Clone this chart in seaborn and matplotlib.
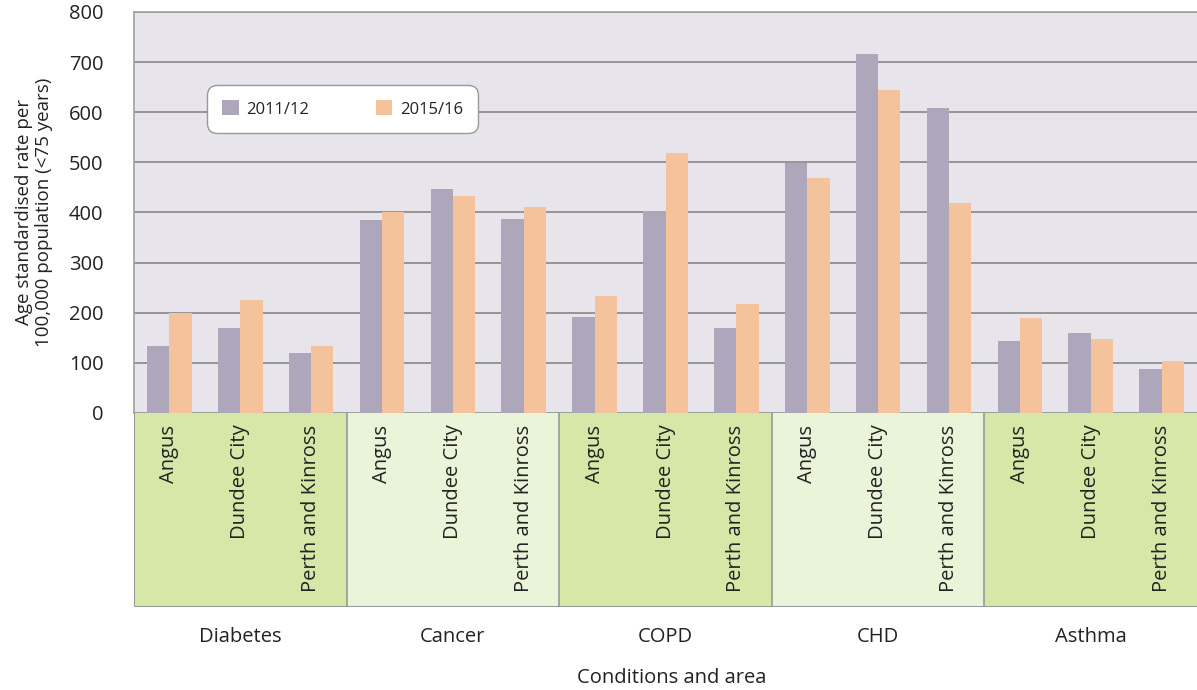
import pandas as pd
import numpy as np
import matplotlib
matplotlib.use('Agg')
import matplotlib.pyplot as plt
import matplotlib.transforms as mtransforms
import seaborn as sns

# ==================== DATA ====================
conditions = ['Diabetes', 'Cancer', 'COPD', 'CHD', 'Asthma']
areas = ['Angus', 'Dundee City', 'Perth and Kinross']
periods = ['2011/12', '2015/16']

rate_2011 = [134, 170, 120,   385, 447, 387,   191, 403, 170,   499, 717, 609,   144, 159, 87]
rate_2015 = [200, 226, 134,   400, 433, 411,   234, 519, 218,   469, 645, 419,   189, 147, 104]

yticks = [0, 100, 200, 300, 400, 500, 600, 700, 800]

rows = []
i = 0
for c in conditions:
    for a in areas:
        key = c + '|' + a
        rows.append({'key': key, 'area': a, 'condition': c, 'period': periods[0], 'rate': rate_2011[i]})
        rows.append({'key': key, 'area': a, 'condition': c, 'period': periods[1], 'rate': rate_2015[i]})
        i += 1
df = pd.DataFrame(rows)
order = list(dict.fromkeys(df['key']))

# ==================== STYLE ====================
sns.set_style('white')
plt.rcParams['font.family'] = ['Open Sans', 'DejaVu Sans']
text_col = '#222222'
grid_col = '#8e8e8e'
bg_col = '#e7e5eb'
pal = {'2011/12': '#aea6ba', '2015/16': '#f5c39b'}
band_dark = '#d5e8a8'
band_light = '#eaf4d8'

fig = plt.figure(figsize=(11.97, 6.90), dpi=100)
left, width = 134 / 1197, 1 - 134 / 1197
ax = fig.add_axes([left, 1 - 413 / 690, width, (413 - 12) / 690])
ax2 = fig.add_axes([left, 1 - 607 / 690, width, (607 - 413) / 690], sharex=ax)

sns.barplot(data=df, x='key', y='rate', hue='period', order=order, hue_order=periods,
            palette=pal, saturation=1, width=0.63, linewidth=0, ax=ax, zorder=3)

ax.set_facecolor(bg_col)
ax.set_ylim(0, 800)
ax.set_yticks(yticks)
ax.set_yticklabels([str(t) for t in yticks], fontsize=14.5, color=text_col)
ax.tick_params(axis='y', length=0, pad=22)
ax.tick_params(axis='x', length=0, labelbottom=False)
ax.yaxis.grid(True, color=grid_col, linewidth=1.3, zorder=0)
ax.set_axisbelow(True)
ax.set_xlabel('')
ax.set_ylabel('')
for s in ['left', 'top', 'bottom']:
    ax.spines[s].set_color('#a0a0a0')
    ax.spines[s].set_linewidth(1.2)
ax.spines['right'].set_visible(False)

leg = ax.legend(loc='center', bbox_to_anchor=(0.196, 0.758), ncol=2, frameon=True,
                fontsize=12, handlelength=1.0, handleheight=1.0, columnspacing=4.0,
                borderpad=0.9, handletextpad=0.45, fancybox=True)
leg.get_frame().set_facecolor('white')
leg.get_frame().set_edgecolor('#999999')
leg.get_frame().set_alpha(1)
leg.get_frame().set_boxstyle('round', pad=0, rounding_size=0.6)
for t in leg.get_texts():
    t.set_color(text_col)
leg.set_zorder(5)

# ==================== CATEGORY BAND ====================
ax2.set_ylim(0, 1)
ax2.axis('off')
n = len(areas)
trans = mtransforms.blended_transform_factory(ax2.transData, ax2.transAxes)
for j, c in enumerate(conditions):
    x0 = j * n - 0.5
    ax2.axvspan(x0, x0 + n, color=band_dark if j % 2 == 0 else band_light, zorder=0)
    if j > 0:
        ax2.axvline(x0, color='#999999', linewidth=1.2)
    ax2.text(x0 + n / 2, -0.155, c, transform=trans, ha='center', va='center',
             fontsize=14.5, color=text_col, clip_on=False)
ax2.axhline(0, color='#999999', linewidth=1.5)
ax2.axvline(-0.5, color='#999999', linewidth=1.5)
for k, key in enumerate(order):
    ax2.text(k, 0.94, key.split('|')[1], rotation=90, ha='center', va='top',
             fontsize=14.5, color=text_col)
ax.set_xlim(-0.5, len(order) - 0.5)

fig.text(34 / 1197, 1 - 212 / 690, 'Age standardised rate per\n100,000 population (<75 years)',
         rotation=90, ha='center', va='center', fontsize=13.5, color=text_col,
         multialignment='center', linespacing=1.1)
fig.text(672 / 1197, 1 - 678 / 690, 'Conditions and area', ha='center', va='center',
         fontsize=14.5, color=text_col)

fig.savefig('out.png', dpi=100)
